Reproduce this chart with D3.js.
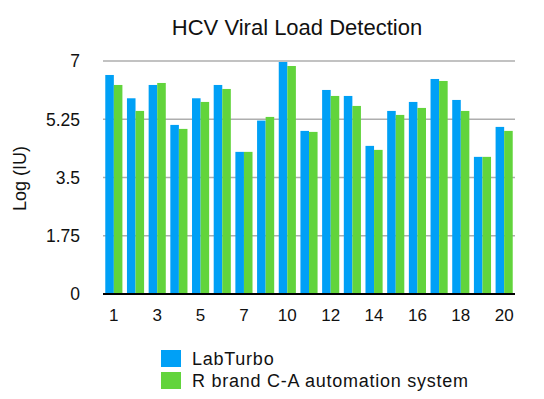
<!DOCTYPE html>
<html>
<head>
<meta charset="utf-8">
<script src="https://cdn.jsdelivr.net/npm/d3@7"></script>
<style>
  body { margin: 0; background: #fff; }
  text { font-family: "Liberation Sans", Arial, sans-serif; fill: #111; }
</style>
</head>
<body>
<svg id="chart"></svg>
<script>
const samples = ['1', '2', '3', '4', '5', '6', '7', '8', '10', '11', '12', '13', '14', '15', '16', '17', '18', '19', '20'];
const labTurbo = [6.58, 5.88, 6.28, 5.08, 5.88, 6.28, 4.27, 5.21, 6.97, 4.90, 6.13, 5.95, 4.45, 5.50, 5.77, 6.46, 5.83, 4.12, 5.02];
const rBrand = [6.28, 5.50, 6.34, 4.96, 5.77, 6.16, 4.27, 5.32, 6.85, 4.87, 5.95, 5.65, 4.33, 5.38, 5.59, 6.40, 5.50, 4.12, 4.90];
const yTicks = [0, 1.75, 3.5, 5.25, 7];
const seriesNames = ['LabTurbo', 'R brand C-A automation system'];
const seriesColors = ['#00a0f6', '#62d43c'];

const width = 544;
const height = 399;
const margin = { top: 61, right: 29, bottom: 105, left: 103 };
const innerW = width - margin.left - margin.right;
const innerH = height - margin.top - margin.bottom;

const rows = samples.map((s, i) => ({ sample: s, values: [labTurbo[i], rBrand[i]] }));

const svg = d3.select('#chart')
  .attr('width', width)
  .attr('height', height);

const g = svg.append('g')
  .attr('transform', `translate(${margin.left},${margin.top})`);

const x = d3.scaleBand()
  .domain(samples)
  .range([0, innerW])
  .paddingInner(0.21)
  .paddingOuter(0.105);

const xSub = d3.scaleBand()
  .domain([0, 1])
  .range([0, x.bandwidth()]);

const y = d3.scaleLinear()
  .domain([0, 7])
  .range([innerH, 0]);

// grid lines
g.selectAll('.grid')
  .data(yTicks.filter(t => t > 0))
  .enter().append('line')
    .attr('x1', 0)
    .attr('x2', innerW)
    .attr('y1', d => y(d))
    .attr('y2', d => y(d))
    .attr('stroke', '#aeaeae')
    .attr('stroke-width', 1.5);

// y tick labels
g.selectAll('.ylab')
  .data(yTicks)
  .enter().append('text')
    .attr('x', -23)
    .attr('y', d => y(d))
    .attr('dy', '0.36em')
    .attr('text-anchor', 'end')
    .style('font-size', '17.5px')
    .text(d => d);

// bars
const group = g.selectAll('.group')
  .data(rows)
  .enter().append('g')
    .attr('transform', d => `translate(${x(d.sample)},0)`);

group.selectAll('rect')
  .data(d => d.values)
  .enter().append('rect')
    .attr('x', (d, i) => xSub(i))
    .attr('width', xSub.bandwidth())
    .attr('y', d => y(d))
    .attr('height', d => innerH - y(d))
    .attr('fill', (d, i) => seriesColors[i]);

// baseline
g.append('line')
  .attr('x1', 0)
  .attr('x2', innerW)
  .attr('y1', innerH)
  .attr('y2', innerH)
  .attr('stroke', '#000')
  .attr('stroke-width', 2);

// x tick labels, every other sample
g.selectAll('.xlab')
  .data(samples.filter((s, i) => i % 2 === 0))
  .enter().append('text')
    .attr('x', d => x(d) + x.bandwidth() / 2)
    .attr('y', innerH + 21)
    .attr('dy', '0.36em')
    .attr('text-anchor', 'middle')
    .style('font-size', '17px')
    .text(d => d);

// y title
svg.append('text')
  .attr('transform', `translate(20,${margin.top + innerH / 2 + 1}) rotate(-90)`)
  .attr('text-anchor', 'middle')
  .attr('dy', '0.36em')
  .style('font-size', '18px')
  .text('Log (IU)');

// title
svg.append('text')
  .attr('x', 297)
  .attr('y', 35)
  .attr('text-anchor', 'middle')
  .style('font-size', '22px')
  .text('HCV Viral Load Detection');

// legend
const legend = svg.append('g')
  .attr('transform', 'translate(161,350)');

const item = legend.selectAll('g')
  .data(seriesNames)
  .enter().append('g')
    .attr('transform', (d, i) => `translate(0,${i * 22})`);

item.append('rect')
  .attr('width', 20)
  .attr('height', 17)
  .attr('fill', (d, i) => seriesColors[i]);

item.append('text')
  .attr('x', 31)
  .attr('y', 8.5)
  .attr('dy', '0.36em')
  .style('font-size', '18px')
  .style('letter-spacing', '0.75px')
  .text(d => d);
</script>
</body>
</html>
